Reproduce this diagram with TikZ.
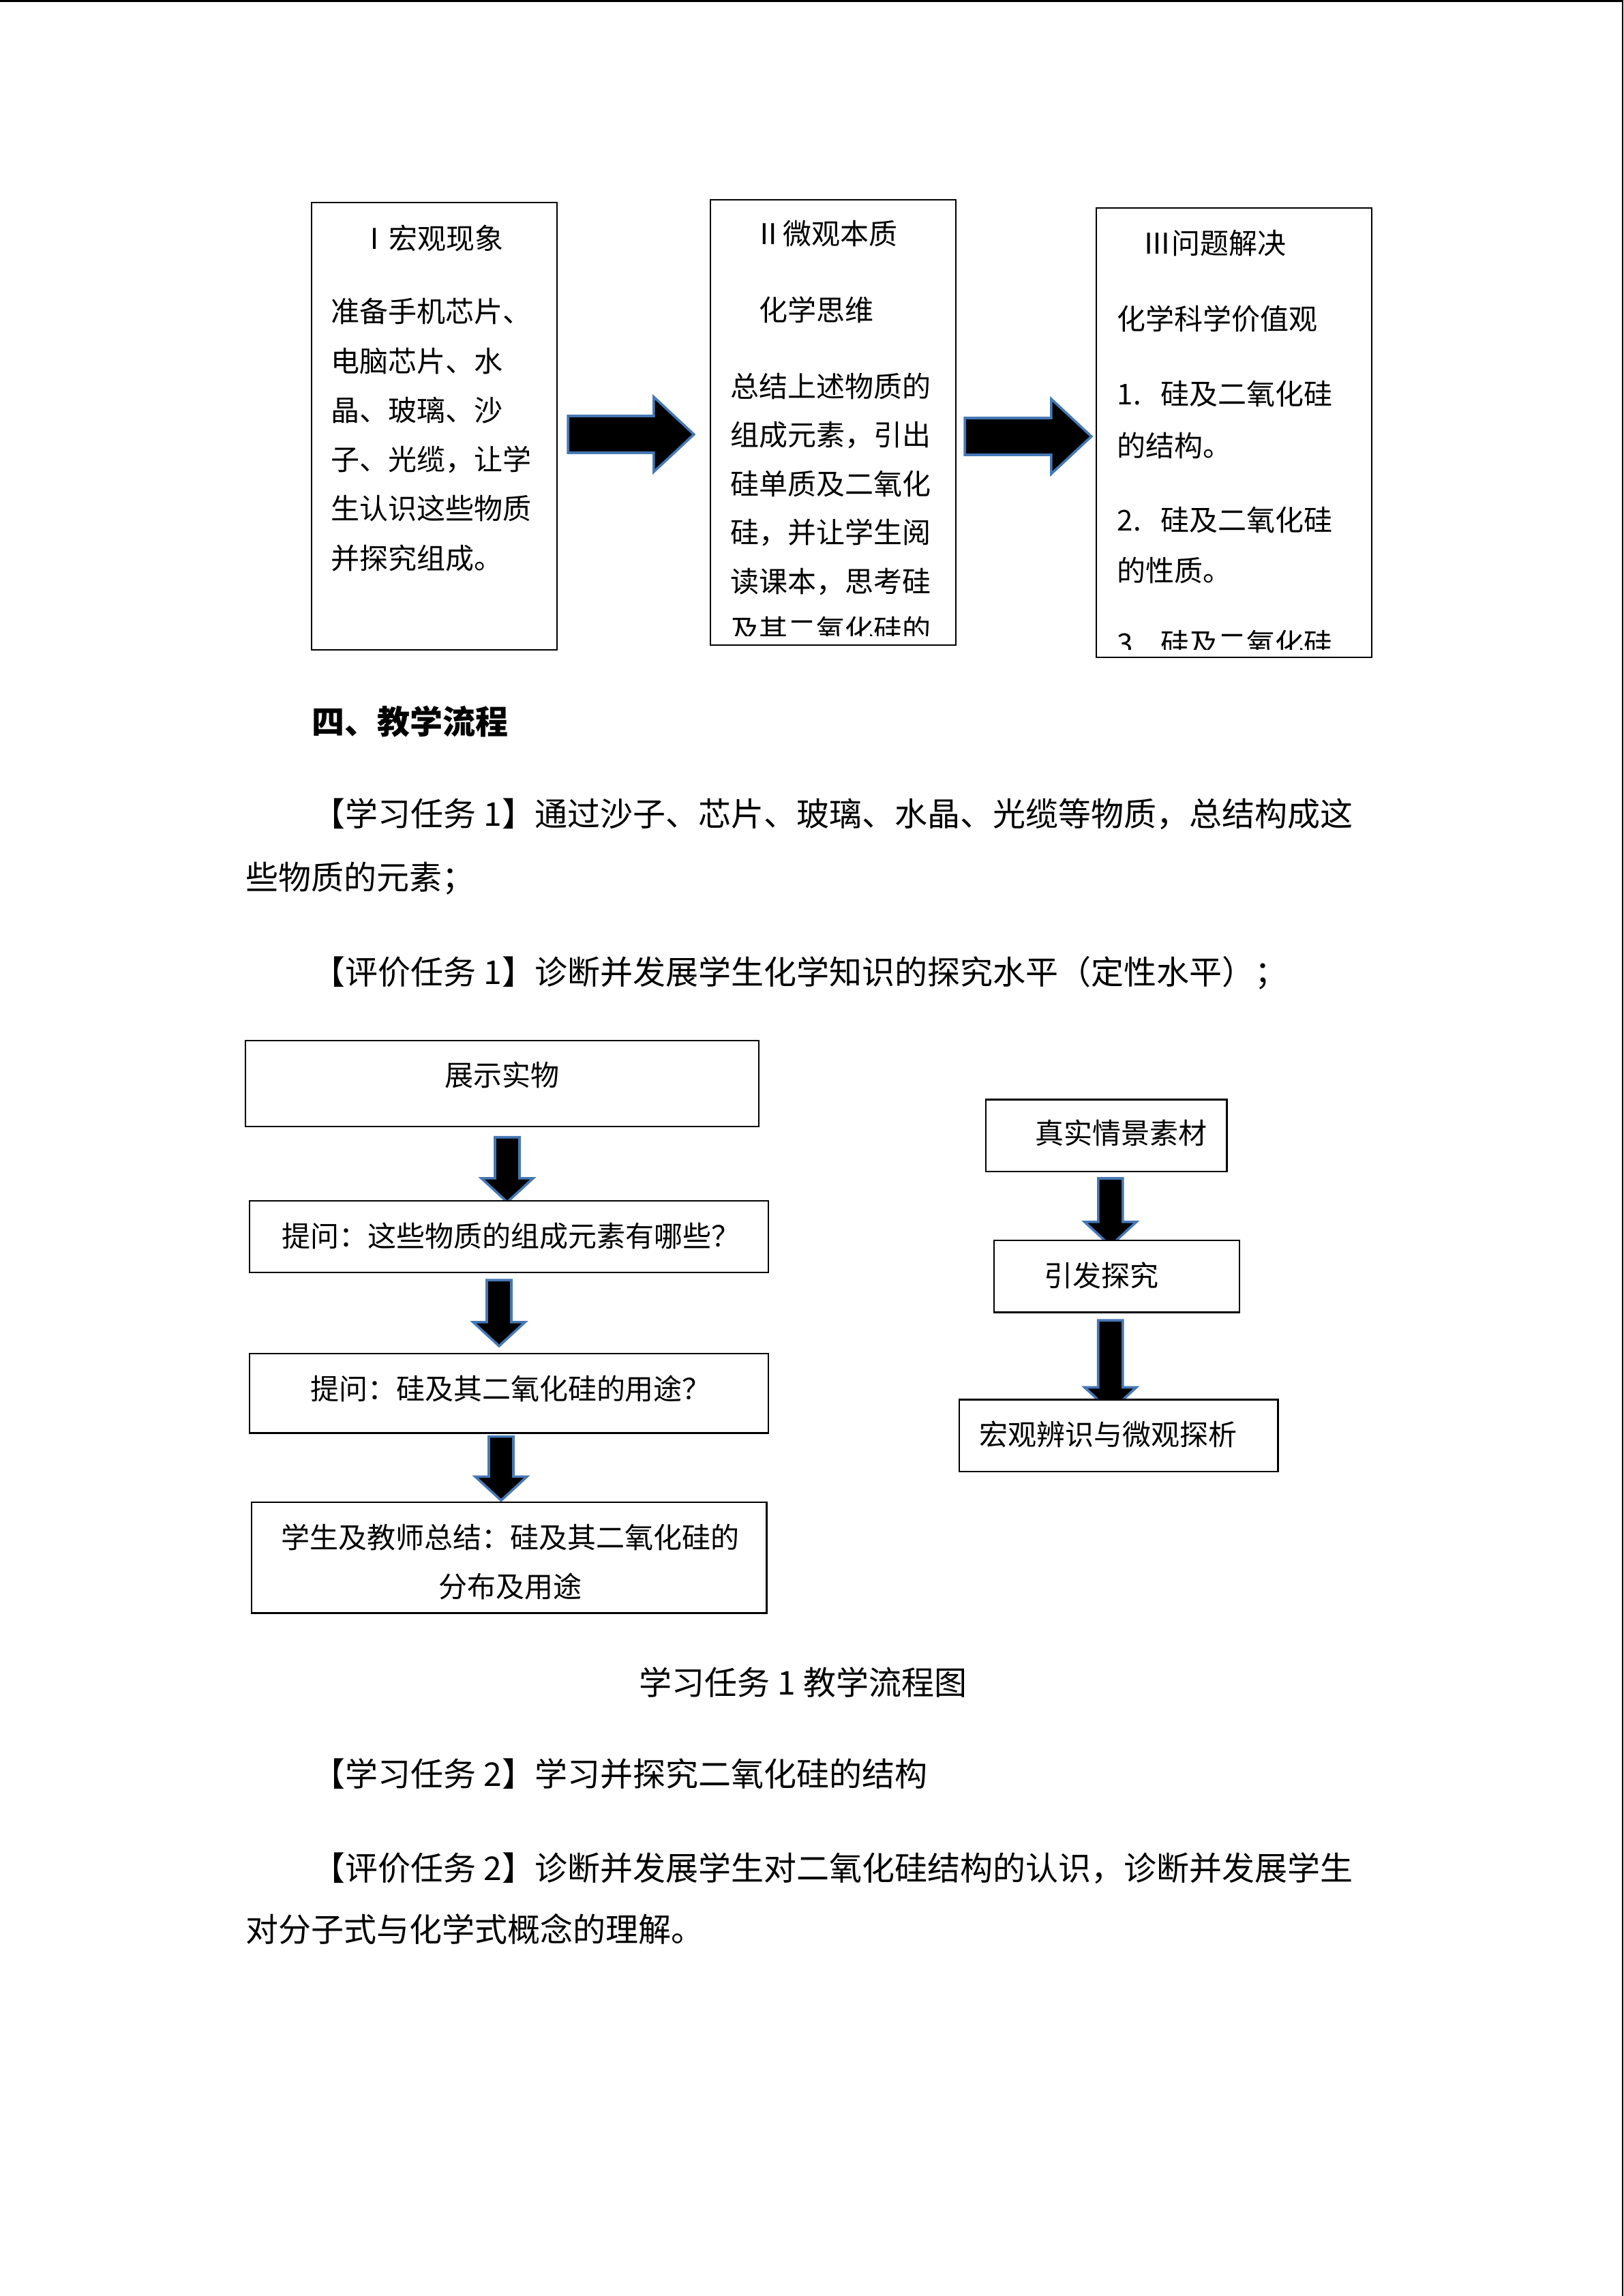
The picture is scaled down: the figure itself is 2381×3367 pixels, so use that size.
\documentclass[tikz,border=0pt]{standalone}
\usepackage{fontspec}
\setmainfont{Noto Sans CJK SC}
\usetikzlibrary{calc}
\usetikzlibrary{backgrounds}
\definecolor{flechaBorde}{RGB}{70,120,180}
\tikzset{
  caja/.style={
    rectangle, draw=black, line width=0.6pt, fill=white, inner sep=0pt
  },
  texto/.style={
    anchor=west, inner sep=0pt, text height=0.88em, text depth=0.12em,
    font=\fontsize{10.5}{18}\selectfont
  },
  textoc/.style={texto, anchor=center},
  parrafo/.style={
    anchor=west, inner sep=0pt, text height=0.88em, text depth=0.12em,
    font=\fontsize{12}{23}\selectfont
  },
  flechabloque/.style={fill=black, draw=flechaBorde, line width=0.9pt, line join=miter}
}
\newcommand{\flechaH}[2]{%
  \path #1 coordinate (fcola) #2 coordinate (fpunta0);
  \coordinate (fpunta) at (fpunta0 |- fcola);
  \filldraw[flechabloque] ($(fcola)+(0,-27)$) -- ($(fpunta)+(-59,-27)$) -- ($(fpunta)+(-59,-55)$)
    -- (fpunta) -- ($(fpunta)+(-59,55)$) -- ($(fpunta)+(-59,27)$) -- ($(fcola)+(0,27)$) -- cycle;}
\newcommand{\flechaV}[2]{%
  \path #1 coordinate (fcola) #2 coordinate (fpunta0);
  \coordinate (fpunta) at (fcola |- fpunta0);
  \filldraw[flechabloque] ($(fcola)+(-18,0)$) -- ($(fpunta)+(-18,-35)$) -- ($(fpunta)+(-38,-35)$)
    -- (fpunta) -- ($(fpunta)+(38,-35)$) -- ($(fpunta)+(18,-35)$) -- ($(fcola)+(18,0)$) -- cycle;}

\begin{document}
\begin{tikzpicture}[x=0.25pt, y=-0.25pt]
  \useasboundingbox (0,0) rectangle (2381,3367);
  \fill (0,0) rectangle (2381,3);
  \fill (2379,0) rectangle (2381,3367);

  \node[caja, minimum width=90pt, minimum height=164pt] (cajaI) at (637,625) {};
  \node[caja, minimum width=90pt, minimum height=163.25pt] (cajaII) at (1222,619.5) {};
  \node[caja, minimum width=101pt, minimum height=164.75pt] (cajaIII) at (1810,634.5) {};

  \node[texto] (tituloI) at (528,350) {Ⅰ宏观现象};
  \foreach \lin [count=\i] in {准备手机芯片、, 电脑芯片、水, 晶、玻璃、沙, 子、光缆，让学, 生认识这些物质, 并探究组成。}
    \node[texto] (tI\i) at (485,{457.5+72.3*(\i-1)}) {\lin};

  \node[texto] (tituloII) at (1106,343.7) {Ⅱ微观本质};
  \node[texto] (subII) at (1113,455) {化学思维};
  \begin{scope}
    \clip (cajaII.north west) rectangle ($(cajaII.south east)+(0,-15)$);
    \foreach \lin [count=\i] in {总结上述物质的, 组成元素，引出, 硅单质及二氧化, 硅，并让学生阅, 读课本，思考硅, 及其二氧化硅的}
      \node[texto] (tII\i) at (1071,{567+71.5*(\i-1)}) {\lin};
  \end{scope}

  \node[texto] (tituloIII) at (1676,357) {Ⅲ问题解决};
  \node[texto] (subIII) at (1638,468.6) {化学科学价值观};
  \begin{scope}
    \clip (cajaIII.north west) rectangle ($(cajaIII.south east)+(0,-13)$);
    \node[texto] (tIII1) at (1638,578) {\makebox[16pt][l]{1.}硅及二氧化硅};
    \node[texto] (tIII2) at (1638,654) {的结构。};
    \node[texto] (tIII3) at (1638,763) {\makebox[16pt][l]{2.}硅及二氧化硅};
    \node[texto] (tIII4) at (1638,837) {的性质。};
    \node[texto] (tIII5) at (1638,944) {\makebox[16pt][l]{3.}硅及二氧化硅};
  \end{scope}

  \node[parrafo, font=\fontsize{12}{23}\selectfont\bfseries] (seccion) at (457,1061.7) {四、教学流程};
  \node[parrafo] (p1a) at (458,1196.7) {【学习任务 1】通过沙子、芯片、玻璃、水晶、光缆等物质，总结构成这};
  \node[parrafo] (p1b) at (360,1289) {些物质的元素；};
  \node[parrafo] (p2) at (458,1428) {【评价任务 1】诊断并发展学生化学知识的探究水平（定性水平）；};

  \node[caja, minimum width=188.25pt, minimum height=31.5pt] (cajaA) at (736.5,1589) {};
  \node[caja, minimum width=190.25pt, minimum height=26.25pt] (cajaB) at (746.5,1813.5) {};
  \node[caja, minimum width=190.25pt, minimum height=29.1pt] (cajaC) at (746.5,2043.25) {};
  \node[caja, minimum width=188.9pt, minimum height=40.65pt] (cajaD) at (746.75,2284.3) {};
  \node[textoc] (tA) at ($(cajaA.center)+(0,-11.5)$) {展示实物};
  \node[textoc] (tB) at ($(cajaB.center)+(2.5,0)$) {提问：这些物质的组成元素有哪些？};
  \node[textoc] (tC) at ($(cajaC.center)+(2.5,-6.3)$) {提问：硅及其二氧化硅的用途？};
  \node[textoc] (tD1) at ($(cajaD.center)+(2,-29.3)$) {学生及教师总结：硅及其二氧化硅的};
  \node[textoc] (tD2) at ($(cajaD.center)+(2,42.7)$) {分布及用途};

  \node[caja, minimum width=88.4pt, minimum height=26.3pt] (cajaE) at (1622.8,1665.2) {};
  \node[caja, minimum width=90pt, minimum height=26.35pt] (cajaF) at (1637.75,1871.7) {};
  \node[caja, minimum width=116.9pt, minimum height=26.3pt] (cajaG) at (1640.65,2105.25) {};
  \node[texto] (tE) at ($(cajaE.west)+(73,-3.2)$) {真实情景素材};
  \node[texto] (tF) at ($(cajaF.west)+(74,-0.7)$) {引发探究};
  \node[texto] (tG) at ($(cajaG.west)+(30,-1.2)$) {宏观辨识与微观探析};

  \begin{scope}[on background layer]
    \flechaH{($(cajaI.east)+(15,12)$)}{($(cajaII.west)+(-23,0)$)}
    \flechaH{($(cajaII.east)+(12,20.5)$)}{($(cajaIII.west)+(-6,0)$)}
    \flechaV{($(cajaA.south)+(7.5,14.5)$)}{($(cajaB.north)+(0,3)$)}
    \flechaV{($(cajaB.south)+(-14.5,10)$)}{($(cajaC.north)+(0,-10)$)}
    \flechaV{($(cajaC.south)+(-11.5,4)$)}{($(cajaD.north)+(0,-1.5)$)}
    \flechaV{($(cajaE.south)+(6,9)$)}{($(cajaF.north)+(0,9)$)}
    \flechaV{($(cajaF.south)+(-9,10.6)$)}{($(cajaG.north)+(0,18)$)}
  \end{scope}

  \node[parrafo, anchor=center] (pie) at (1178,2470) {学习任务 1 教学流程图};
  \node[parrafo] (p3) at (458,2604) {【学习任务 2】学习并探究二氧化硅的结构};
  \node[parrafo] (p4a) at (458,2742) {【评价任务 2】诊断并发展学生对二氧化硅结构的认识，诊断并发展学生};
  \node[parrafo] (p4b) at (360,2832) {对分子式与化学式概念的理解。};
\end{tikzpicture}
\end{document}
